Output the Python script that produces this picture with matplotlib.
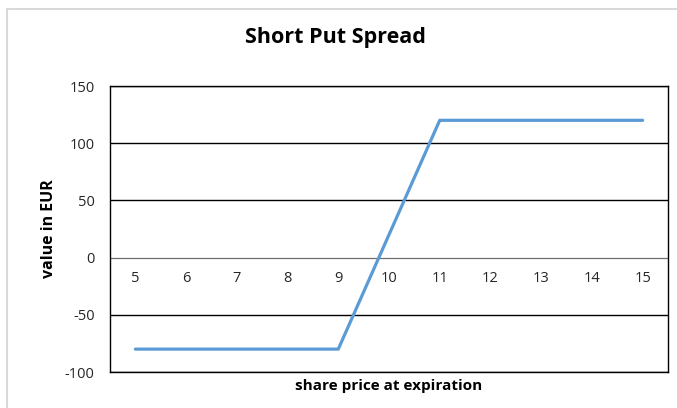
import matplotlib
matplotlib.use('Agg')
import matplotlib.pyplot as plt
from matplotlib.patches import Rectangle

# share price at expiration and value of the short put spread
share_price = [5, 6, 7, 8, 9, 10, 11, 12, 13, 14, 15]
value_eur = [-80, -80, -80, -80, -80, 20, 120, 120, 120, 120, 120]
y_ticks = [-100, -50, 0, 50, 100, 150]

plt.rcParams['font.family'] = ['Open Sans', 'DejaVu Sans']
plt.rcParams['axes.unicode_minus'] = False

fig = plt.figure(figsize=(6.77, 4.08), dpi=100)
W, H = 677, 408

# outer chart border (light gray, cropped at right/bottom)
fig.patches.append(Rectangle((7 / W, -0.1), 1.2, (H - 9) / H + 0.1,
                             transform=fig.transFigure, fill=False,
                             edgecolor='#d9d9d9', linewidth=1.5))

ax = fig.add_axes([110 / W, 1 - 372 / H, (668 - 110) / W, (372 - 86) / H])
ax.set_xlim(4.5, 15.5)
ax.set_ylim(-100, 150)

for y in y_ticks:
    if y == 0:
        ax.axhline(y, color='#6f6f6f', linewidth=0.9, zorder=1)
    else:
        ax.axhline(y, color='black', linewidth=1.0, zorder=1)

ax.plot(share_price, value_eur, color='#5b9bd5', linewidth=2.3,
        solid_capstyle='round', zorder=3)

for s in ax.spines.values():
    s.set_color('black')
    s.set_linewidth(1.0)

ax.set_yticks(y_ticks)
ax.tick_params(axis='y', length=0, pad=11, labelsize=10.5, labelcolor='#262626')
ax.set_xticks([])

for x in share_price:
    ax.annotate(str(x), (x, 0), xytext=(0, -15), textcoords='offset points',
                ha='center', va='center', fontsize=10.5, color='#262626')

ax.set_xlabel('share price at expiration', fontsize=11, fontweight='bold',
              labelpad=5)
ax.set_ylabel('value in EUR', fontsize=11.5, fontweight='bold', labelpad=6)

fig.text(335 / W, 1 - 37 / H, 'Short Put Spread', ha='center', va='center',
         fontsize=15.5, fontweight='bold')

fig.savefig('out.png', dpi=100)
